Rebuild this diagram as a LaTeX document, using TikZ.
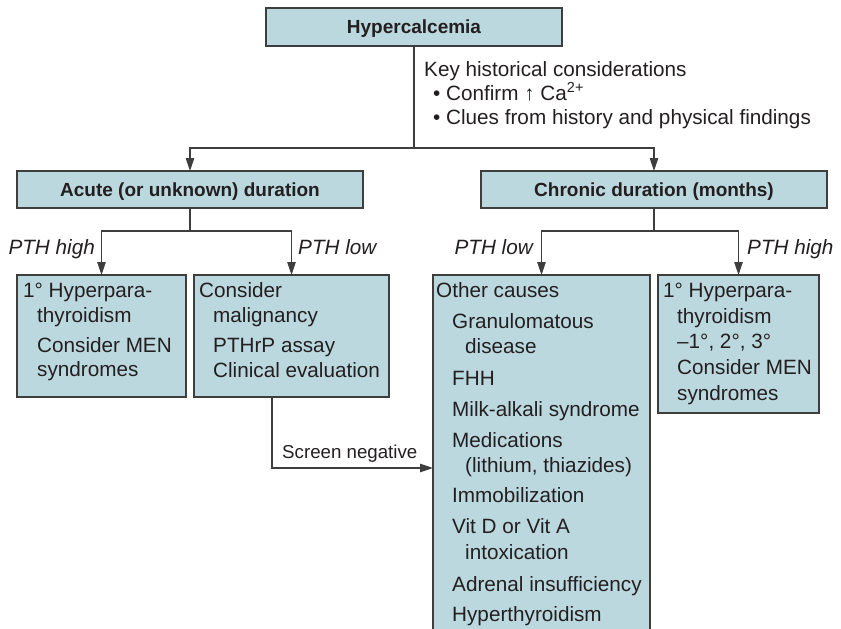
\documentclass[tikz,border=0pt]{standalone}
\usepackage{fontspec}
\setmainfont{Liberation Sans}
\usetikzlibrary{arrows.meta}
\definecolor{boxfill}{RGB}{187,216,223}
\definecolor{boxline}{RGB}{62,62,62}
\definecolor{ink}{RGB}{35,31,32}
\begin{document}
\begin{tikzpicture}[x=1pt,y=-1pt,
  box/.style={draw=boxline, fill=boxfill, line width=1.3pt, inner sep=0pt, outer sep=0pt},
  head/.style={font=\fontsize{19}{22}\selectfont\bfseries, text=ink, text height=13.6pt, text depth=0pt},
  txt/.style={font=\fontsize{20.7}{24}\selectfont, text=ink, inner sep=0pt, anchor=base west},
  lbl/.style={font=\fontsize{20.7}{24}\selectfont\itshape, text=ink, inner sep=0pt},
  link/.style={draw=boxline, line width=1.1pt},
  arr/.style={link, -{Triangle[length=13pt,width=8.5pt]}},
]
\useasboundingbox (0,0) rectangle (841,629);
\clip (0,0) rectangle (841,629);

% boxes
\node[box, head, minimum width=296pt, minimum height=38pt] (top) at (414,27) {Hypercalcemia};
\node[box, head, minimum width=346pt, minimum height=37pt] (acute) at (190,189.5) {Acute (or unknown) duration};
\node[box, head, minimum width=346pt, minimum height=37pt] (chronic) at (654,189.5) {Chronic duration (months)};
\node[box, minimum width=169pt, minimum height=122pt] (boxA) at (101.5,336) {};
\node[box, minimum width=195pt, minimum height=122pt] (boxB) at (291.5,336) {};
\node[box, minimum width=217pt, minimum height=370pt] (other) at (541.5,460) {};
\node[box, minimum width=161pt, minimum height=138pt] (boxD) at (738.5,344) {};

% notes under the top box
\node[txt] (k0) at (424,76) {Key historical considerations};
\node[txt] (k1) at (433,100) {\textbullet\ Confirm ↑ Ca\textsuperscript{2+}};
\node[txt] (k2) at (433,124) {\textbullet\ Clues from history and physical findings};

% connectors
\coordinate (j1) at (414,148);
\draw[link] (top.south) -- (j1);
\draw[arr] (j1) -| (acute.north);
\draw[arr] (j1) -| (chronic.north);

\coordinate (j2) at (190,231);
\draw[link] (acute.south) -- (j2);
\draw[arr] (j2) -| (boxA.north);
\draw[arr] (j2) -| (boxB.north);

\coordinate (j3) at (654,231);
\draw[link] (chronic.south) -- (j3);
\draw[arr] (j3) -| (other.north);
\draw[arr] (j3) -| (boxD.north);

\coordinate (sn) at (272,468);
\draw[arr] (boxB.south -| sn) -- (sn) -- (sn -| other.west);
\node[txt, font=\fontsize{18.7}{22}\selectfont] (sneg) at (282,458) {Screen negative};

% branch labels
\node[lbl, anchor=base east] (ph1) at (95,254) {PTH high};
\node[lbl, anchor=base west] (pl1) at (298,254) {PTH low};
\node[lbl, anchor=base east] (pl2) at (533,254) {PTH low};
\node[lbl, anchor=base west] (ph2) at (747,254) {PTH high};

% acute, PTH high
\node[txt] (a1) at (23,297) {1° Hyperpara-};
\node[txt] (a2) at (37,322) {thyroidism};
\node[txt] (a3) at (37,352) {Consider MEN};
\node[txt] (a4) at (37,376) {syndromes};

% acute, PTH low
\node[txt] (b1) at (199,297) {Consider};
\node[txt] (b2) at (213,322) {malignancy};
\node[txt] (b3) at (213,352) {PTHrP assay};
\node[txt] (b4) at (213,377) {Clinical evaluation};

% chronic, PTH low
\node[txt] (c1) at (436,297) {Other causes};
\node[txt] (c2) at (452,328) {Granulomatous};
\node[txt] (c3) at (465,353) {disease};
\node[txt] (c4) at (452,385) {FHH};
\node[txt] (c5) at (452,416) {Milk-alkali syndrome};
\node[txt] (c6) at (452,447) {Medications};
\node[txt] (c7) at (465,472) {(lithium, thiazides)};
\node[txt] (c8) at (452,502) {Immobilization};
\node[txt] (c9) at (452,533) {Vit D or Vit A};
\node[txt] (c10) at (465,559) {intoxication};
\node[txt] (c11) at (452,591) {Adrenal insufficiency};
\node[txt] (c12) at (452,621) {Hyperthyroidism};

% chronic, PTH high
\node[txt] (d1) at (663,297) {1° Hyperpara-};
\node[txt] (d2) at (677,323) {thyroidism};
\node[txt] (d3) at (677,348) {–1°, 2°, 3°};
\node[txt] (d4) at (677,374) {Consider MEN};
\node[txt] (d5) at (677,400) {syndromes};
\end{tikzpicture}
\end{document}
